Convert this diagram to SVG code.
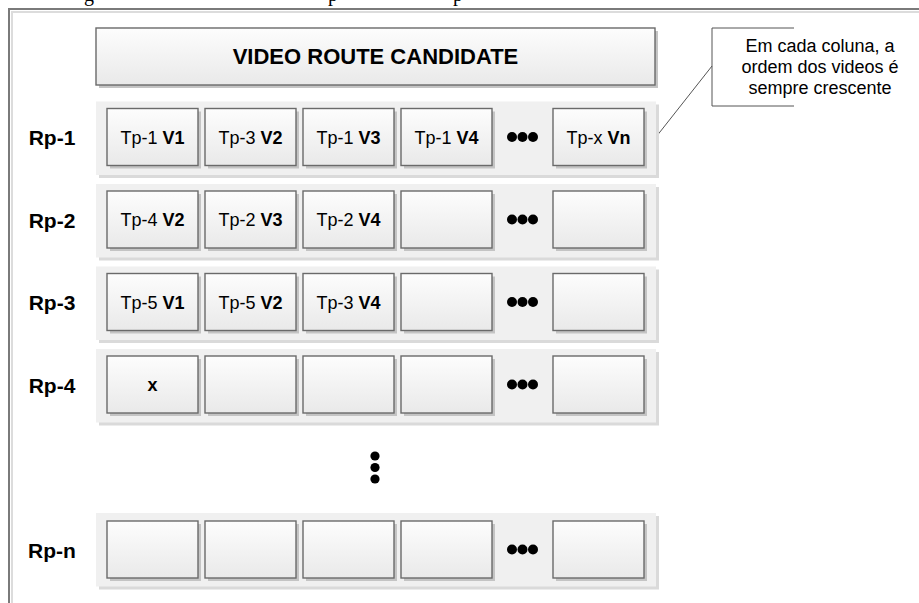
<svg xmlns="http://www.w3.org/2000/svg" width="919" height="603" viewBox="0 0 919 603">
  <defs>
    <linearGradient id="boxFill" x1="0" y1="0" x2="0" y2="1">
      <stop offset="0" stop-color="#fdfdfd"/>
      <stop offset="1" stop-color="#e9e9e9"/>
    </linearGradient>
    <style>
      .caption { font-family: "Liberation Serif", "Times New Roman", serif; font-size: 20px; fill: #000; }
      .frame-dark { stroke: #7a7a7a; stroke-width: 2; fill: none; }
      .frame-light { stroke: #dcdcdc; stroke-width: 2; fill: none; }
      .row-bg { fill: #f0f0f0; }
      .row-shadow { fill: #dadada; }
      .box { fill: url(#boxFill); stroke: #6a6a6a; stroke-width: 1.4; }
      .box-shadow { fill: #c4c4c4; }
      .title { font-family: "Liberation Sans", Arial, sans-serif; font-size: 22px; font-weight: bold; fill: #000; text-anchor: middle; }
      .label { font-family: "Liberation Sans", Arial, sans-serif; font-size: 21px; font-weight: bold; fill: #000; text-anchor: middle; }
      .cell { font-family: "Liberation Sans", Arial, sans-serif; font-size: 18px; fill: #000; text-anchor: middle; }
      .cell tspan.v, .cell.bold { font-weight: bold; }
      .note { font-family: "Liberation Sans", Arial, sans-serif; font-size: 18px; fill: #000; text-anchor: middle; }
      .note-frame { stroke: #555; stroke-width: 1; fill: none; }
      .dot { fill: #000; }
    </style>
  </defs>

  <!-- descenders of the caption line above the figure -->
  <text class="caption" x="84" y="0.5">g</text>
  <text class="caption" x="328" y="0.5">p</text>
  <text class="caption" x="453" y="0.5">p</text>

  <!-- outer frame -->
  <g id="frame">
    <path class="frame-light" d="M12 603 V12 H919"/>
    <path class="frame-dark" d="M9 603 V9 H919"/>
  </g>

  <!-- header -->
  <g id="header">
    <rect class="box-shadow" x="99" y="31" width="559" height="57"/>
    <rect class="box" x="96" y="28" width="559" height="57"/>
    <text class="title" x="375.5" y="64">VIDEO ROUTE CANDIDATE</text>
  </g>

  <!-- annotation -->
  <g id="note">
    <path class="note-frame" d="M794 28 H712 V106 H794"/>
    <text class="note" x="820" y="52">Em cada coluna, a</text>
    <text class="note" x="820" y="73">ordem dos videos é</text>
    <text class="note" x="820" y="94">sempre crescente</text>
  </g>

  <g id="connectors">
    <line class="note-frame" x1="712" y1="66" x2="656" y2="137"/>
  </g>

  <!-- row 1 -->
  <g id="row-1">
    <rect class="row-shadow" x="99" y="104.5" width="560" height="73.5"/>
    <rect class="row-bg" x="96" y="101.5" width="560" height="73.5"/>
    <text class="label" x="52" y="145">Rp-1</text>
    <g id="r1c1"><rect class="box-shadow" x="110" y="111.5" width="91" height="57"/><rect class="box" x="107" y="108.5" width="91" height="57"/><text class="cell" x="152.5" y="143.5">Tp-1 <tspan class="v">V1</tspan></text></g>
    <g id="r1c2"><rect class="box-shadow" x="208" y="111.5" width="91" height="57"/><rect class="box" x="205" y="108.5" width="91" height="57"/><text class="cell" x="250.5" y="143.5">Tp-3 <tspan class="v">V2</tspan></text></g>
    <g id="r1c3"><rect class="box-shadow" x="306" y="111.5" width="91" height="57"/><rect class="box" x="303" y="108.5" width="91" height="57"/><text class="cell" x="348.5" y="143.5">Tp-1 <tspan class="v">V3</tspan></text></g>
    <g id="r1c4"><rect class="box-shadow" x="404" y="111.5" width="91" height="57"/><rect class="box" x="401" y="108.5" width="91" height="57"/><text class="cell" x="446.5" y="143.5">Tp-1 <tspan class="v">V4</tspan></text></g>
    <g id="r1dots"><circle class="dot" cx="512" cy="137" r="5"/><circle class="dot" cx="522.5" cy="137" r="5"/><circle class="dot" cx="533" cy="137" r="5"/></g>
    <g id="r1c5"><rect class="box-shadow" x="556" y="111.5" width="91" height="57"/><rect class="box" x="553" y="108.5" width="91" height="57"/><text class="cell" x="598.5" y="143.5">Tp-x <tspan class="v">Vn</tspan></text></g>
  </g>

  <!-- row 2 -->
  <g id="row-2">
    <rect class="row-shadow" x="99" y="187" width="560" height="73.5"/>
    <rect class="row-bg" x="96" y="184" width="560" height="73.5"/>
    <text class="label" x="52" y="227.5">Rp-2</text>
    <g id="r2c1"><rect class="box-shadow" x="110" y="194" width="91" height="57"/><rect class="box" x="107" y="191" width="91" height="57"/><text class="cell" x="152.5" y="226">Tp-4 <tspan class="v">V2</tspan></text></g>
    <g id="r2c2"><rect class="box-shadow" x="208" y="194" width="91" height="57"/><rect class="box" x="205" y="191" width="91" height="57"/><text class="cell" x="250.5" y="226">Tp-2 <tspan class="v">V3</tspan></text></g>
    <g id="r2c3"><rect class="box-shadow" x="306" y="194" width="91" height="57"/><rect class="box" x="303" y="191" width="91" height="57"/><text class="cell" x="348.5" y="226">Tp-2 <tspan class="v">V4</tspan></text></g>
    <g id="r2c4"><rect class="box-shadow" x="404" y="194" width="91" height="57"/><rect class="box" x="401" y="191" width="91" height="57"/></g>
    <g id="r2dots"><circle class="dot" cx="512" cy="219.5" r="5"/><circle class="dot" cx="522.5" cy="219.5" r="5"/><circle class="dot" cx="533" cy="219.5" r="5"/></g>
    <g id="r2c5"><rect class="box-shadow" x="556" y="194" width="91" height="57"/><rect class="box" x="553" y="191" width="91" height="57"/></g>
  </g>

  <!-- row 3 -->
  <g id="row-3">
    <rect class="row-shadow" x="99" y="269.5" width="560" height="73.5"/>
    <rect class="row-bg" x="96" y="266.5" width="560" height="73.5"/>
    <text class="label" x="52" y="310">Rp-3</text>
    <g id="r3c1"><rect class="box-shadow" x="110" y="276.5" width="91" height="57"/><rect class="box" x="107" y="273.5" width="91" height="57"/><text class="cell" x="152.5" y="308.5">Tp-5 <tspan class="v">V1</tspan></text></g>
    <g id="r3c2"><rect class="box-shadow" x="208" y="276.5" width="91" height="57"/><rect class="box" x="205" y="273.5" width="91" height="57"/><text class="cell" x="250.5" y="308.5">Tp-5 <tspan class="v">V2</tspan></text></g>
    <g id="r3c3"><rect class="box-shadow" x="306" y="276.5" width="91" height="57"/><rect class="box" x="303" y="273.5" width="91" height="57"/><text class="cell" x="348.5" y="308.5">Tp-3 <tspan class="v">V4</tspan></text></g>
    <g id="r3c4"><rect class="box-shadow" x="404" y="276.5" width="91" height="57"/><rect class="box" x="401" y="273.5" width="91" height="57"/></g>
    <g id="r3dots"><circle class="dot" cx="512" cy="302" r="5"/><circle class="dot" cx="522.5" cy="302" r="5"/><circle class="dot" cx="533" cy="302" r="5"/></g>
    <g id="r3c5"><rect class="box-shadow" x="556" y="276.5" width="91" height="57"/><rect class="box" x="553" y="273.5" width="91" height="57"/></g>
  </g>

  <!-- row 4 -->
  <g id="row-4">
    <rect class="row-shadow" x="99" y="352" width="560" height="73.5"/>
    <rect class="row-bg" x="96" y="349" width="560" height="73.5"/>
    <text class="label" x="52" y="392.5">Rp-4</text>
    <g id="r4c1"><rect class="box-shadow" x="110" y="359" width="91" height="57"/><rect class="box" x="107" y="356" width="91" height="57"/><text class="cell bold" x="152.5" y="391">x</text></g>
    <g id="r4c2"><rect class="box-shadow" x="208" y="359" width="91" height="57"/><rect class="box" x="205" y="356" width="91" height="57"/></g>
    <g id="r4c3"><rect class="box-shadow" x="306" y="359" width="91" height="57"/><rect class="box" x="303" y="356" width="91" height="57"/></g>
    <g id="r4c4"><rect class="box-shadow" x="404" y="359" width="91" height="57"/><rect class="box" x="401" y="356" width="91" height="57"/></g>
    <g id="r4dots"><circle class="dot" cx="512" cy="384.5" r="5"/><circle class="dot" cx="522.5" cy="384.5" r="5"/><circle class="dot" cx="533" cy="384.5" r="5"/></g>
    <g id="r4c5"><rect class="box-shadow" x="556" y="359" width="91" height="57"/><rect class="box" x="553" y="356" width="91" height="57"/></g>
  </g>

  <!-- vertical ellipsis between row 4 and row n -->
  <g id="rows-gap">
    <circle class="dot" cx="375" cy="456" r="4.6"/>
    <circle class="dot" cx="375" cy="467.5" r="4.6"/>
    <circle class="dot" cx="375" cy="479" r="4.6"/>
  </g>

  <!-- row n -->
  <g id="row-n">
    <rect class="row-shadow" x="99" y="516" width="560" height="73.5"/>
    <rect class="row-bg" x="96" y="513" width="560" height="73.5"/>
    <text class="label" x="52" y="557.5">Rp-n</text>
    <g id="rnc1"><rect class="box-shadow" x="110" y="524" width="91" height="57"/><rect class="box" x="107" y="521" width="91" height="57"/></g>
    <g id="rnc2"><rect class="box-shadow" x="208" y="524" width="91" height="57"/><rect class="box" x="205" y="521" width="91" height="57"/></g>
    <g id="rnc3"><rect class="box-shadow" x="306" y="524" width="91" height="57"/><rect class="box" x="303" y="521" width="91" height="57"/></g>
    <g id="rnc4"><rect class="box-shadow" x="404" y="524" width="91" height="57"/><rect class="box" x="401" y="521" width="91" height="57"/></g>
    <g id="rndots"><circle class="dot" cx="512" cy="549.5" r="5"/><circle class="dot" cx="522.5" cy="549.5" r="5"/><circle class="dot" cx="533" cy="549.5" r="5"/></g>
    <g id="rnc5"><rect class="box-shadow" x="556" y="524" width="91" height="57"/><rect class="box" x="553" y="521" width="91" height="57"/></g>
  </g>
</svg>
